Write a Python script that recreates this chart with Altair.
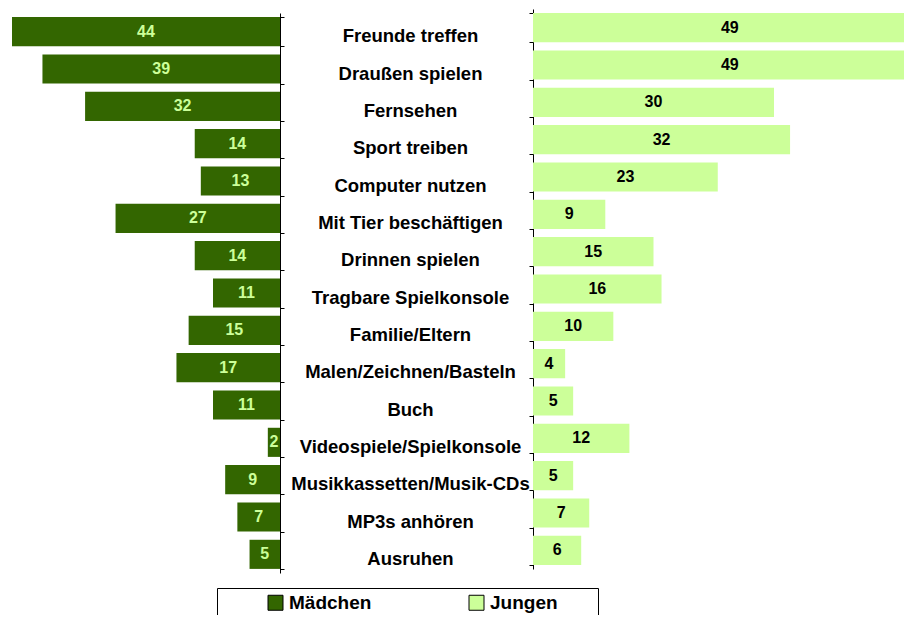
import altair as alt
import pandas as pd

categories = ["Freunde treffen", "Draußen spielen", "Fernsehen", "Sport treiben",
              "Computer nutzen", "Mit Tier beschäftigen", "Drinnen spielen",
              "Tragbare Spielkonsole", "Familie/Eltern", "Malen/Zeichnen/Basteln",
              "Buch", "Videospiele/Spielkonsole", "Musikkassetten/Musik-CDs",
              "MP3s anhören", "Ausruhen"]
maedchen = [44, 39, 32, 14, 13, 27, 14, 11, 15, 17, 11, 2, 9, 7, 5]
jungen = [49, 49, 30, 32, 23, 9, 15, 16, 10, 4, 5, 12, 5, 7, 6]
groups = ["Mädchen", "Jungen"]

DARK = "#336600"
LIGHT = "#CCFF99"
FONT = "Liberation Sans"

left_df = pd.DataFrame({"cat": categories, "v": maedchen, "g": groups[0]})
right_df = pd.DataFrame({"cat": categories, "v": jungen, "g": groups[1]})

color = alt.Color(
    "g:N",
    scale=alt.Scale(domain=groups, range=[DARK, LIGHT]),
    legend=alt.Legend(
        orient="none", legendX=209, legendY=580, direction="horizontal",
        title=" ", titleOrient="right", titlePadding=35,
        strokeColor="black", fillColor="white", padding=5,
        symbolType="square", symbolSize=225, symbolStrokeColor="black",
        symbolStrokeWidth=1, symbolOffset=44, labelOffset=4, columnPadding=51,
        labelFont=FONT, labelFontSize=19, labelFontWeight="bold", labelColor="black",
    ),
)

left_y = alt.Y(
    "cat:N",
    scale=alt.Scale(domain=categories, range=[5, 565], paddingInner=0.22, paddingOuter=0.11),
    axis=alt.Axis(
        orient="right", offset=-624, title=None,
        domainColor="black", domainWidth=1, tickColor="black", tickWidth=1,
        tickSize=4, tickBand="extent",
        labelAlign="center", labelPadding=126, labelOffset=4,
        labelFont=FONT, labelFontSize=18.5, labelFontWeight="bold",
        labelColor="black", labelLimit=0, labelOverlap=False,
    ),
)
right_y = alt.Y(
    "cat:N",
    scale=alt.Scale(domain=categories, range=[1, 561], paddingInner=0.22, paddingOuter=0.11),
    axis=alt.Axis(
        orient="left", offset=-525, title=None, labels=False,
        domainColor="black", domainWidth=1, tickColor="black", tickWidth=1,
        tickSize=4, tickBand="extent",
    ),
)

left_x_scale = alt.Scale(domain=[0, 44], range=[272, 4], nice=False, zero=True)
right_x_scale = alt.Scale(domain=[0, 30], range=[525, 766], nice=False, zero=True)

left_bars = alt.Chart(left_df).mark_bar(clip=True).encode(
    x=alt.X("v:Q", scale=left_x_scale, axis=None),
    y=left_y,
    color=color,
)
left_text = alt.Chart(left_df).transform_calculate(mid="datum.v / 2").mark_text(
    font=FONT, fontSize=16, fontWeight="bold", color=LIGHT, baseline="middle"
).encode(
    x=alt.X("mid:Q", scale=left_x_scale, axis=None),
    y=left_y,
    text="v:Q",
)
right_bars = alt.Chart(right_df).mark_bar(clip=True).encode(
    x=alt.X("v:Q", scale=right_x_scale, axis=None),
    y=right_y,
    color=color,
)
right_text = alt.Chart(right_df).transform_calculate(mid="datum.v / 2").mark_text(
    font=FONT, fontSize=16, fontWeight="bold", color="black", baseline="middle"
).encode(
    x=alt.X("mid:Q", scale=right_x_scale, axis=None),
    y=right_y,
    text="v:Q",
)

left = alt.layer(left_bars, left_text)
right = alt.layer(right_bars, right_text)

chart = alt.layer(left, right).resolve_scale(
    x="independent", y="independent"
).properties(
    width=896, height=607, padding=0, autosize="none"
).configure_view(stroke=None)

chart.save("out.html", embed_options={"renderer": "svg", "actions": False})
